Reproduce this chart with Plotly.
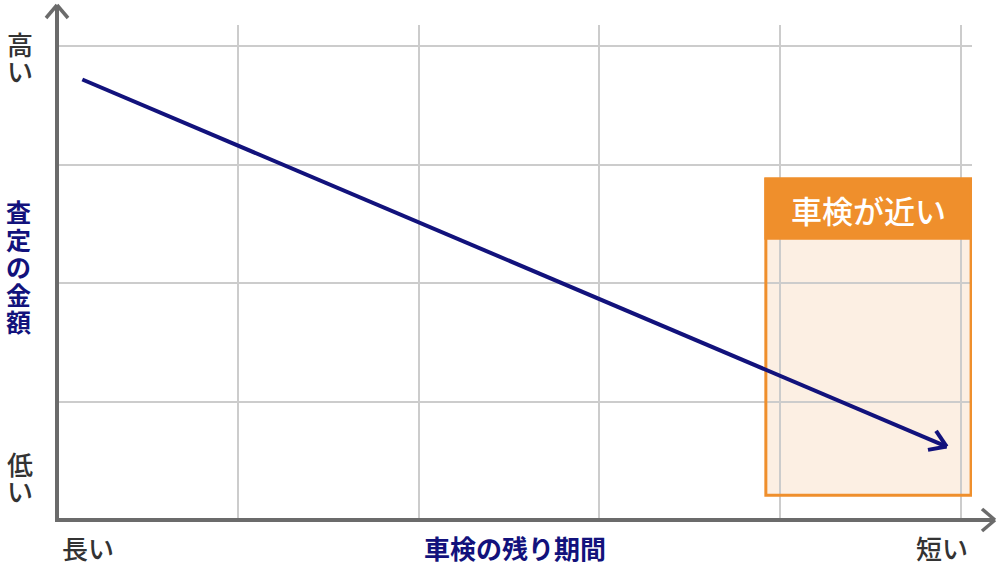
import numpy as np
import plotly.graph_objects as go

# ---- data ----
line_x = [0.14, 4.92]          # remaining inspection period (long -> short)
line_y = [3.72, 0.62]          # appraisal amount (high -> low)
grid_x = [1, 2, 3, 4, 5]
grid_y = [1, 2, 3, 4]
box_x = [3.92, 5.055]
box_y = [0.21, 2.88]
box_header_y = 2.38
box_label = "車検が近い"
x_title = "車検の残り期間"
y_title = "査定の金額"
x_low_label = "長い"
x_high_label = "短い"
y_high_label = "高い"
y_low_label = "低い"

W, H = 1000, 565
L, R, T, B = 57, 28, 25, 45
XR = [0, 5.06]
YR = [0, 4.18]
NAVY = "#12127C"
ORANGE = "#EF8F2C"
GRAY = "#6B6B6B"
FONT = "Noto Sans CJK JP"

pw = W - L - R
ph = H - T - B

def to_px(x, y):
    return (L + (x - XR[0]) / (XR[1] - XR[0]) * pw,
            T + (YR[1] - y) / (YR[1] - YR[0]) * ph)

def to_data(px, py):
    return (XR[0] + (px - L) / pw * (XR[1] - XR[0]),
            YR[1] - (py - T) / ph * (YR[1] - YR[0]))

def px_paper(px, py):
    return ((px - L) / pw, (H - B - py) / ph)

fig = go.Figure()

# main line
fig.add_trace(go.Scatter(x=line_x, y=line_y, mode="lines",
                         line=dict(color=NAVY, width=4), hoverinfo="skip",
                         showlegend=False))
# open arrowhead computed in pixel space from the line direction
p0 = np.array(to_px(line_x[0], line_y[0]))
p1 = np.array(to_px(line_x[-1], line_y[-1]))
d = (p1 - p0) / np.linalg.norm(p1 - p0)
arm = 19
hx, hy = [], []
for ang in (np.deg2rad(33), -np.deg2rad(33)):
    rot = np.array([[np.cos(ang), -np.sin(ang)], [np.sin(ang), np.cos(ang)]])
    a = p1 - arm * (rot @ d)
    ax_, ay_ = to_data(*a)
    hx += [ax_, line_x[-1]]
    hy += [ay_, line_y[-1]]
    hx.append(None); hy.append(None)
fig.add_trace(go.Scatter(x=hx, y=hy, mode="lines",
                         line=dict(color=NAVY, width=4), hoverinfo="skip",
                         showlegend=False))

shapes = []
# box fill (below grid)
shapes.append(dict(type="rect", xref="x", yref="y", x0=box_x[0], x1=box_x[1],
                   y0=box_y[0], y1=box_y[1], fillcolor="#FCEFE3",
                   line=dict(width=0), layer="below"))
# box border
shapes.append(dict(type="rect", xref="x", yref="y", x0=box_x[0], x1=box_x[1],
                   y0=box_y[0], y1=box_y[1], fillcolor="rgba(0,0,0,0)",
                   line=dict(color=ORANGE, width=3), layer="between"))
# header
shapes.append(dict(type="rect", xref="x", yref="y", x0=box_x[0], x1=box_x[1],
                   y0=box_header_y, y1=box_y[1], fillcolor=ORANGE,
                   line=dict(color=ORANGE, width=3), layer="between"))

# axes with arrows (paper coords, outside plot area allowed)
def seg(p, q, color=GRAY, width=4):
    a = px_paper(*p); b = px_paper(*q)
    return dict(type="line", xref="paper", yref="paper", x0=a[0], y0=a[1],
                x1=b[0], y1=b[1], line=dict(color=color, width=width))

shapes.append(seg((57, 522), (57, 6)))
shapes.append(seg((55, 520), (994, 520)))
shapes.append(seg((57, 5), (46, 18), width=3.5))
shapes.append(seg((57, 5), (68, 18), width=3.5))
shapes.append(seg((995, 520), (982, 509), width=3.5))
shapes.append(seg((995, 520), (982, 531), width=3.5))

annotations = []
def txt(s, px, py, size, color, weight=400):
    x, y = px_paper(px, py)
    annotations.append(dict(text=s, x=x, y=y, xref="paper", yref="paper",
                            showarrow=False, xanchor="center", yanchor="middle",
                            borderpad=0,
                            font=dict(family=FONT, size=size, color=color,
                                      weight=weight)))

def vtxt(s, px, py_center, size, color, step, weight=400):
    n = len(s)
    for i, ch in enumerate(s):
        txt(ch, px, py_center + (i - (n - 1) / 2) * step, size, color, weight)

DARK = "#333333"
vtxt(y_high_label, 20, 57, 26, DARK, 27, 500)
vtxt(y_low_label, 20, 477, 26, DARK, 27, 500)
vtxt(y_title, 18, 266, 25, NAVY, 27.5, 700)
txt(x_low_label, 88, 547, 26, DARK, 500)
txt(x_high_label, 942, 547, 26, DARK, 500)
txt(x_title, 515, 547, 26, NAVY, 700)

hx0, hy0 = to_px(box_x[0], box_y[1])
hx1, hy1 = to_px(box_x[1], box_header_y)
txt(box_label, (hx0 + hx1) / 2, (hy0 + hy1) / 2 + 1, 31, "white", 500)

fig.update_layout(
    width=W, height=H,
    margin=dict(l=L, r=R, t=T, b=B),
    paper_bgcolor="white", plot_bgcolor="white",
    shapes=shapes, annotations=annotations,
    xaxis=dict(range=XR, tickvals=grid_x, showticklabels=False,
               showgrid=True, gridcolor="#CCCCCC", gridwidth=2,
               zeroline=False, showline=False, fixedrange=True),
    yaxis=dict(range=YR, tickvals=grid_y, showticklabels=False,
               showgrid=True, gridcolor="#CCCCCC", gridwidth=2,
               zeroline=False, showline=False, fixedrange=True),
    showlegend=False,
)

fig.write_html("out.html", config={"displayModeBar": False},
               post_script="document.body.style.margin='0';"
                           "document.body.style.overflow='hidden';")
